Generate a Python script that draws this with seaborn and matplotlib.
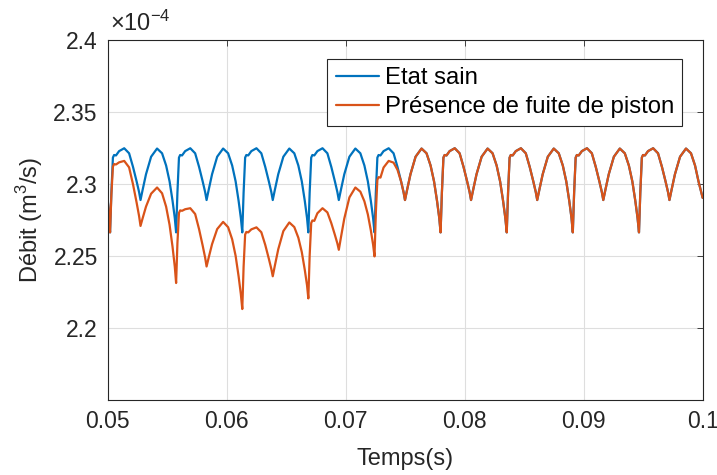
import matplotlib
matplotlib.use("Agg")
import matplotlib.pyplot as plt
import seaborn as sns
import pandas as pd

# temps (s), un rang par cycle (creux profond -> creux profond)
temps_rows = [
    [0.05000, 0.05010],
    # cycle 1
    [0.05021, 0.05032, 0.05045, 0.05055, 0.05071, 0.05097, 0.05140, 0.05181, 0.05214, 0.05244, 0.05265,
     0.05277, 0.05294, 0.05323, 0.05366, 0.05416, 0.05458, 0.05492, 0.05521, 0.05546, 0.05565],
    # cycle 2
    [0.05576, 0.05587, 0.05600, 0.05610, 0.05626, 0.05652, 0.05695, 0.05736, 0.05769, 0.05799, 0.05820,
     0.05832, 0.05849, 0.05878, 0.05921, 0.05971, 0.06013, 0.06047, 0.06076, 0.06101, 0.06120],
    # cycle 3
    [0.06132, 0.06143, 0.06156, 0.06166, 0.06182, 0.06208, 0.06251, 0.06292, 0.06325, 0.06355, 0.06376,
     0.06388, 0.06405, 0.06434, 0.06477, 0.06527, 0.06569, 0.06603, 0.06632, 0.06657, 0.06676],
    # cycle 4
    [0.06687, 0.06698, 0.06711, 0.06721, 0.06737, 0.06763, 0.06806, 0.06847, 0.06880, 0.06910, 0.06931,
     0.06943, 0.06960, 0.06989, 0.07032, 0.07082, 0.07124, 0.07158, 0.07187, 0.07212, 0.07231],
    # cycle 5
    [0.07243, 0.07254, 0.07267, 0.07277, 0.07293, 0.07319, 0.07362, 0.07403, 0.07436, 0.07466, 0.07487,
     0.07499, 0.07516, 0.07545, 0.07588, 0.07638, 0.07680, 0.07714, 0.07743, 0.07768, 0.07787],
    # cycle 6
    [0.07798, 0.07809, 0.07822, 0.07832, 0.07848, 0.07874, 0.07917, 0.07958, 0.07991, 0.08021, 0.08042,
     0.08054, 0.08071, 0.08100, 0.08143, 0.08193, 0.08235, 0.08269, 0.08298, 0.08323, 0.08342],
    # cycle 7
    [0.08354, 0.08365, 0.08378, 0.08388, 0.08404, 0.08430, 0.08473, 0.08514, 0.08547, 0.08577, 0.08598,
     0.08610, 0.08627, 0.08656, 0.08699, 0.08749, 0.08791, 0.08825, 0.08854, 0.08879, 0.08898],
    # cycle 8
    [0.08909, 0.08920, 0.08933, 0.08943, 0.08959, 0.08985, 0.09028, 0.09069, 0.09102, 0.09132, 0.09153,
     0.09165, 0.09182, 0.09211, 0.09254, 0.09304, 0.09346, 0.09380, 0.09409, 0.09434, 0.09453],
    # cycle 9
    [0.09465, 0.09476, 0.09489, 0.09499, 0.09515, 0.09541, 0.09584, 0.09625, 0.09658, 0.09688, 0.09709,
     0.09721, 0.09738, 0.09767, 0.09810, 0.09860, 0.09902, 0.09936, 0.09965, 0.10000],
]

# debit etat sain (x 1e-4 m3/s)
debit_sain_rows = [
    [2.2905, 2.2800],
    # cycle 1
    [2.2665, 2.2940, 2.3185, 2.3203, 2.3200, 2.3230, 2.3250, 2.3215, 2.3120, 2.3020, 2.2945,
     2.2890, 2.2958, 2.3069, 2.3191, 2.3248, 2.3215, 2.3130, 2.3020, 2.2885, 2.2765],
    # cycle 2
    [2.2665, 2.2940, 2.3185, 2.3203, 2.3200, 2.3230, 2.3250, 2.3215, 2.3120, 2.3020, 2.2945,
     2.2890, 2.2958, 2.3069, 2.3191, 2.3248, 2.3215, 2.3130, 2.3020, 2.2885, 2.2765],
    # cycle 3
    [2.2665, 2.2940, 2.3185, 2.3203, 2.3200, 2.3230, 2.3250, 2.3215, 2.3120, 2.3020, 2.2945,
     2.2890, 2.2958, 2.3069, 2.3191, 2.3248, 2.3215, 2.3130, 2.3020, 2.2885, 2.2765],
    # cycle 4
    [2.2665, 2.2940, 2.3185, 2.3203, 2.3200, 2.3230, 2.3250, 2.3215, 2.3120, 2.3020, 2.2945,
     2.2890, 2.2958, 2.3069, 2.3191, 2.3248, 2.3215, 2.3130, 2.3020, 2.2885, 2.2765],
    # cycle 5
    [2.2665, 2.2940, 2.3185, 2.3203, 2.3200, 2.3230, 2.3250, 2.3215, 2.3120, 2.3020, 2.2945,
     2.2890, 2.2958, 2.3069, 2.3191, 2.3248, 2.3215, 2.3130, 2.3020, 2.2885, 2.2765],
    # cycle 6
    [2.2665, 2.2940, 2.3185, 2.3203, 2.3200, 2.3230, 2.3250, 2.3215, 2.3120, 2.3020, 2.2945,
     2.2890, 2.2958, 2.3069, 2.3191, 2.3248, 2.3215, 2.3130, 2.3020, 2.2885, 2.2765],
    # cycle 7
    [2.2665, 2.2940, 2.3185, 2.3203, 2.3200, 2.3230, 2.3250, 2.3215, 2.3120, 2.3020, 2.2945,
     2.2890, 2.2958, 2.3069, 2.3191, 2.3248, 2.3215, 2.3130, 2.3020, 2.2885, 2.2765],
    # cycle 8
    [2.2665, 2.2940, 2.3185, 2.3203, 2.3200, 2.3230, 2.3250, 2.3215, 2.3120, 2.3020, 2.2945,
     2.2890, 2.2958, 2.3069, 2.3191, 2.3248, 2.3215, 2.3130, 2.3020, 2.2885, 2.2765],
    # cycle 9
    [2.2665, 2.2940, 2.3185, 2.3203, 2.3200, 2.3230, 2.3250, 2.3215, 2.3120, 2.3020, 2.2945,
     2.2890, 2.2958, 2.3069, 2.3191, 2.3248, 2.3215, 2.3130, 2.3020, 2.2905],
]

# debit avec fuite de piston : differe sur le debut et les 5 premiers cycles
debit_fuite_debut = [
    [2.2905, 2.2800],
    # cycle 1
    [2.2665, 2.2925, 2.3122, 2.3140, 2.3137, 2.3152, 2.3162, 2.3117, 2.2999, 2.2873, 2.2778,
     2.2710, 2.2761, 2.2844, 2.2934, 2.2977, 2.2937, 2.2844, 2.2718, 2.2565, 2.2426],
    # cycle 2
    [2.2313, 2.2589, 2.2800, 2.2818, 2.2815, 2.2826, 2.2833, 2.2793, 2.2687, 2.2574, 2.2489,
     2.2428, 2.2487, 2.2583, 2.2688, 2.2738, 2.2701, 2.2617, 2.2502, 2.2360, 2.2235],
    # cycle 3
    [2.2132, 2.2425, 2.2650, 2.2668, 2.2665, 2.2686, 2.2700, 2.2666, 2.2578, 2.2482, 2.2411,
     2.2360, 2.2431, 2.2547, 2.2674, 2.2734, 2.2702, 2.2628, 2.2528, 2.2405, 2.2297],
    # cycle 4
    [2.2206, 2.2502, 2.2730, 2.2748, 2.2745, 2.2798, 2.2833, 2.2804, 2.2729, 2.2648, 2.2588,
     2.2544, 2.2626, 2.2761, 2.2908, 2.2977, 2.2948, 2.2881, 2.2790, 2.2679, 2.2580],
    # cycle 5
    [2.2498, 2.2799, 2.3031, 2.3049, 2.3046, 2.3116, 2.3162, 2.3150, 2.3100, 2.3020, 2.2945,
     2.2890, 2.2958, 2.3069, 2.3191, 2.3248, 2.3215, 2.3130, 2.3020, 2.2885, 2.2765],
]
# cycles 6 a 9 : identiques a l'etat sain
debit_fuite_rows = debit_fuite_debut + debit_sain_rows[len(debit_fuite_debut):]

series = ["Etat sain", "Présence de fuite de piston"]
couleurs = ["#0072BD", "#D95319"]

x_ticks = [0.05, 0.06, 0.07, 0.08, 0.09, 0.1]
x_labels = ["0.05", "0.06", "0.07", "0.08", "0.09", "0.1"]
y_ticks = [2.2, 2.25, 2.3, 2.35, 2.4]
y_labels = ["2.2", "2.25", "2.3", "2.35", "2.4"]

temps = [t for row in temps_rows for t in row]
sain = [v for row in debit_sain_rows for v in row]
fuite = [v for row in debit_fuite_rows for v in row]
n = len(temps)
df = pd.DataFrame({
    "Temps": temps + temps,
    "Debit": sain + fuite,
    "Cas": [series[0]] * n + [series[1]] * n,
})

sns.set_theme(style="whitegrid")
plt.rcParams["font.family"] = ["Liberation Sans", "DejaVu Sans"]
plt.rcParams["mathtext.fontset"] = "custom"
plt.rcParams["mathtext.rm"] = "Liberation Sans"

gris = "#262626"
fig, ax = plt.subplots(figsize=(7.17, 4.75), dpi=100)
fig.subplots_adjust(left=0.150, right=0.980, bottom=0.158, top=0.915)

sns.lineplot(data=df, x="Temps", y="Debit", hue="Cas", hue_order=series,
             palette=couleurs, estimator=None, sort=False, linewidth=1.6, ax=ax)

ax.set_xlim(0.05, 0.1)
ax.set_ylim(2.15, 2.4)
ax.set_xticks(x_ticks)
ax.set_xticklabels(x_labels)
ax.set_yticks(y_ticks)
ax.set_yticklabels(y_labels)
ax.grid(True, color="#DEDEDE", linewidth=0.8)
for s in ax.spines.values():
    s.set_visible(True)
    s.set_color(gris)
    s.set_linewidth(0.8)
ax.tick_params(direction="in", top=True, right=True, length=4, width=0.6,
               color=gris, labelcolor=gris, labelsize=16.5, pad=7)

ax.set_xlabel("Temps(s)", fontsize=17, color=gris, labelpad=11)
ax.set_ylabel("Débit (m$^3$/s)", fontsize=17, color=gris, labelpad=6)
ax.text(0.004, 1.012, r"$\mathregular{\times10^{-4}}$", transform=ax.transAxes,
        fontsize=17, color=gris, ha="left", va="bottom")

handles, labels = ax.get_legend_handles_labels()
leg = ax.legend(handles, labels, loc="upper right", bbox_to_anchor=(0.966, 0.9485),
                borderaxespad=0, frameon=True, fancybox=False, framealpha=1,
                edgecolor=gris, fontsize=17.2, handlelength=1.8, handletextpad=0.25,
                borderpad=0.35, labelspacing=0.28)
leg.get_frame().set_linewidth(0.8)
for t in leg.get_texts():
    t.set_color("black")

fig.savefig("out.png", dpi=100)
